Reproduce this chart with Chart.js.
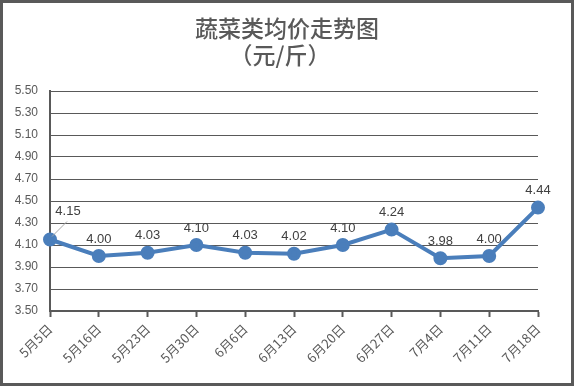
<!DOCTYPE html>
<html><head><meta charset="utf-8">
<script src="https://cdn.jsdelivr.net/npm/chart.js@4"></script>
<style>html,body{margin:0;padding:0;background:#fff}#wrap{width:574px;height:386px;position:relative}</style>
</head><body><div id="wrap"><canvas id="c" width="574" height="386"></canvas></div>
<script>
const categories = ['5月5日','5月16日','5月23日','5月30日','6月6日','6月13日','6月20日','6月27日','7月4日','7月11日','7月18日'];
const prices = [4.15,4.00,4.03,4.10,4.03,4.02,4.10,4.24,3.98,4.00,4.44];
const titleLines = ['蔬菜类均价走势图','（元/斤）'];
const yMin = 3.5, yMax = 5.5, yStep = 0.2;

const deco = {
  id:'deco',
  afterDraw(chart){
    const ctx = chart.ctx;
    ctx.save();
    ctx.strokeStyle = '#595959'; ctx.lineWidth = 3;
    ctx.strokeRect(1.5,1.5,chart.width-3,chart.height-3);
    ctx.fillStyle = '#595959';
    ctx.textAlign = 'center'; ctx.textBaseline = 'middle';
    ctx.font = '500 23px "Noto Sans CJK SC"';
    ctx.fillText(titleLines[0], 287, 28);
    ctx.fillText(titleLines[1], 280, 55);
    const meta = chart.getDatasetMeta(0);
    ctx.font = '13px "Liberation Sans", Arial, sans-serif';
    ctx.fillStyle = '#404040';
    meta.data.forEach((pt,i)=>{
      const v = prices[i].toFixed(2);
      if(i===0){
        ctx.strokeStyle = '#a6a6a6'; ctx.lineWidth = 1;
        ctx.beginPath(); ctx.moveTo(pt.x+2, pt.y-3); ctx.lineTo(pt.x+17, pt.y-18); ctx.stroke();
        ctx.fillText(v, pt.x+18, pt.y-28);
      } else {
        ctx.fillText(v, pt.x, pt.y-17);
      }
    });
    ctx.restore();
  }
};

new Chart(document.getElementById('c'), {
  type:'line',
  data:{labels:categories, datasets:[{data:prices, borderColor:'#4a7ebb', backgroundColor:'#4a7ebb', borderWidth:4, pointRadius:5, pointHoverRadius:5, tension:0}]},
  options:{
    responsive:false, animation:false, events:[],
    layout:{padding:{left:0,right:36,top:91,bottom:0}},
    plugins:{legend:{display:false}, title:{display:false}, tooltip:{enabled:false}},
    scales:{
      x:{
        offset:false,
        afterFit(s){ s.height = 75; },
        grid:{display:true, drawOnChartArea:false, drawTicks:true, tickLength:6, tickWidth:2, tickColor:'#595959'},
        border:{display:true, color:'#595959', width:2},
        ticks:{minRotation:45, maxRotation:45, autoSkip:false, color:'#595959', font:{family:'"Noto Sans CJK SC"', size:13}, padding:4}
      },
      y:{
        min:yMin, max:yMax,
        afterFit(s){ s.width = 50; },
        afterBuildTicks(s){ const t=[]; for(let v=yMin; v<=yMax+1e-9; v+=yStep) t.push({value:+v.toFixed(2)}); s.ticks=t; },
        grid:{color:'#595959', lineWidth:1, drawTicks:false},
        border:{display:true, color:'#595959', width:2},
        ticks:{color:'#595959', padding:12, font:{family:'"Liberation Sans", Arial, sans-serif', size:12}, callback:(v)=>Number(v).toFixed(2)}
      }
    }
  },
  plugins:[deco]
});
</script></body></html>
